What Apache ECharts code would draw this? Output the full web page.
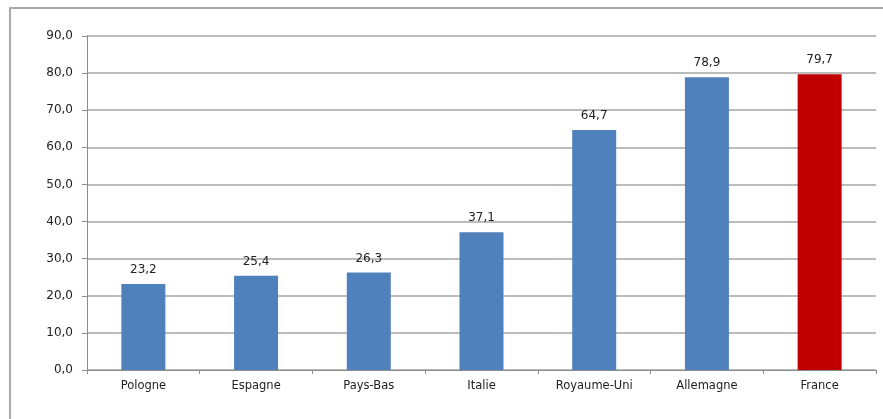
<!DOCTYPE html>
<html>
  <head>
    <meta charset="utf-8" />
    <title>ECharts</title>
    <script src="https://cdn.jsdelivr.net/npm/echarts@6/dist/echarts.min.js"></script>
    <style>
      body { margin: 0; background: #fff; }
    </style>
  </head>
  <body>
    <div id="main" style="width: 883px;height:419px;"></div>
    <script type="text/javascript">
var countries = ['Pologne', 'Espagne', 'Pays-Bas', 'Italie', 'Royaume-Uni', 'Allemagne', 'France'];
var values = [23.2, 25.4, 26.3, 37.1, 64.7, 78.9, 79.7];
var highlight = 'France';

var chartDom = document.getElementById('main');
var myChart = echarts.init(chartDom);
var fmt = function (v) { return v.toFixed(1).replace('.', ','); };

var option = {
  animation: false,
  textStyle: { fontFamily: 'DejaVu Sans' },
  grid: { left: 87, right: 7, top: 36, bottom: 49 },
  graphic: [
    {
      type: 'rect',
      shape: { x: 10, y: 8, width: 885, height: 430 },
      style: { fill: 'none', stroke: '#aaaaaa', lineWidth: 2 },
      silent: true
    }
  ],
  xAxis: {
    type: 'category',
    data: countries,
    axisLine: { lineStyle: { color: '#8c8c8c', width: 1 } },
    axisTick: { show: true, alignWithLabel: false, length: 4, lineStyle: { color: '#8c8c8c' } },
    axisLabel: { color: '#222', fontSize: 11.5, margin: 10 }
  },
  yAxis: {
    type: 'value',
    min: 0,
    max: 90,
    interval: 10,
    axisLine: { show: true, lineStyle: { color: '#8c8c8c' } },
    axisTick: { show: true, length: 5, lineStyle: { color: '#8c8c8c' } },
    axisLabel: { color: '#222', fontSize: 12, margin: 14, formatter: fmt },
    splitLine: { lineStyle: { color: '#a6a6a6', width: 1.5 } }
  },
  series: [
    {
      type: 'bar',
      barWidth: 44,
      data: values.map(function (v, i) {
        return {
          value: v,
          itemStyle: { color: countries[i] === highlight ? '#c00000' : '#4f81bd' }
        };
      }),
      label: {
        show: true,
        position: 'top',
        distance: 8,
        color: '#222',
        fontSize: 12,
        formatter: function (p) { return fmt(p.value); }
      }
    }
  ]
};

myChart.setOption(option);
    </script>
  </body>
</html>
